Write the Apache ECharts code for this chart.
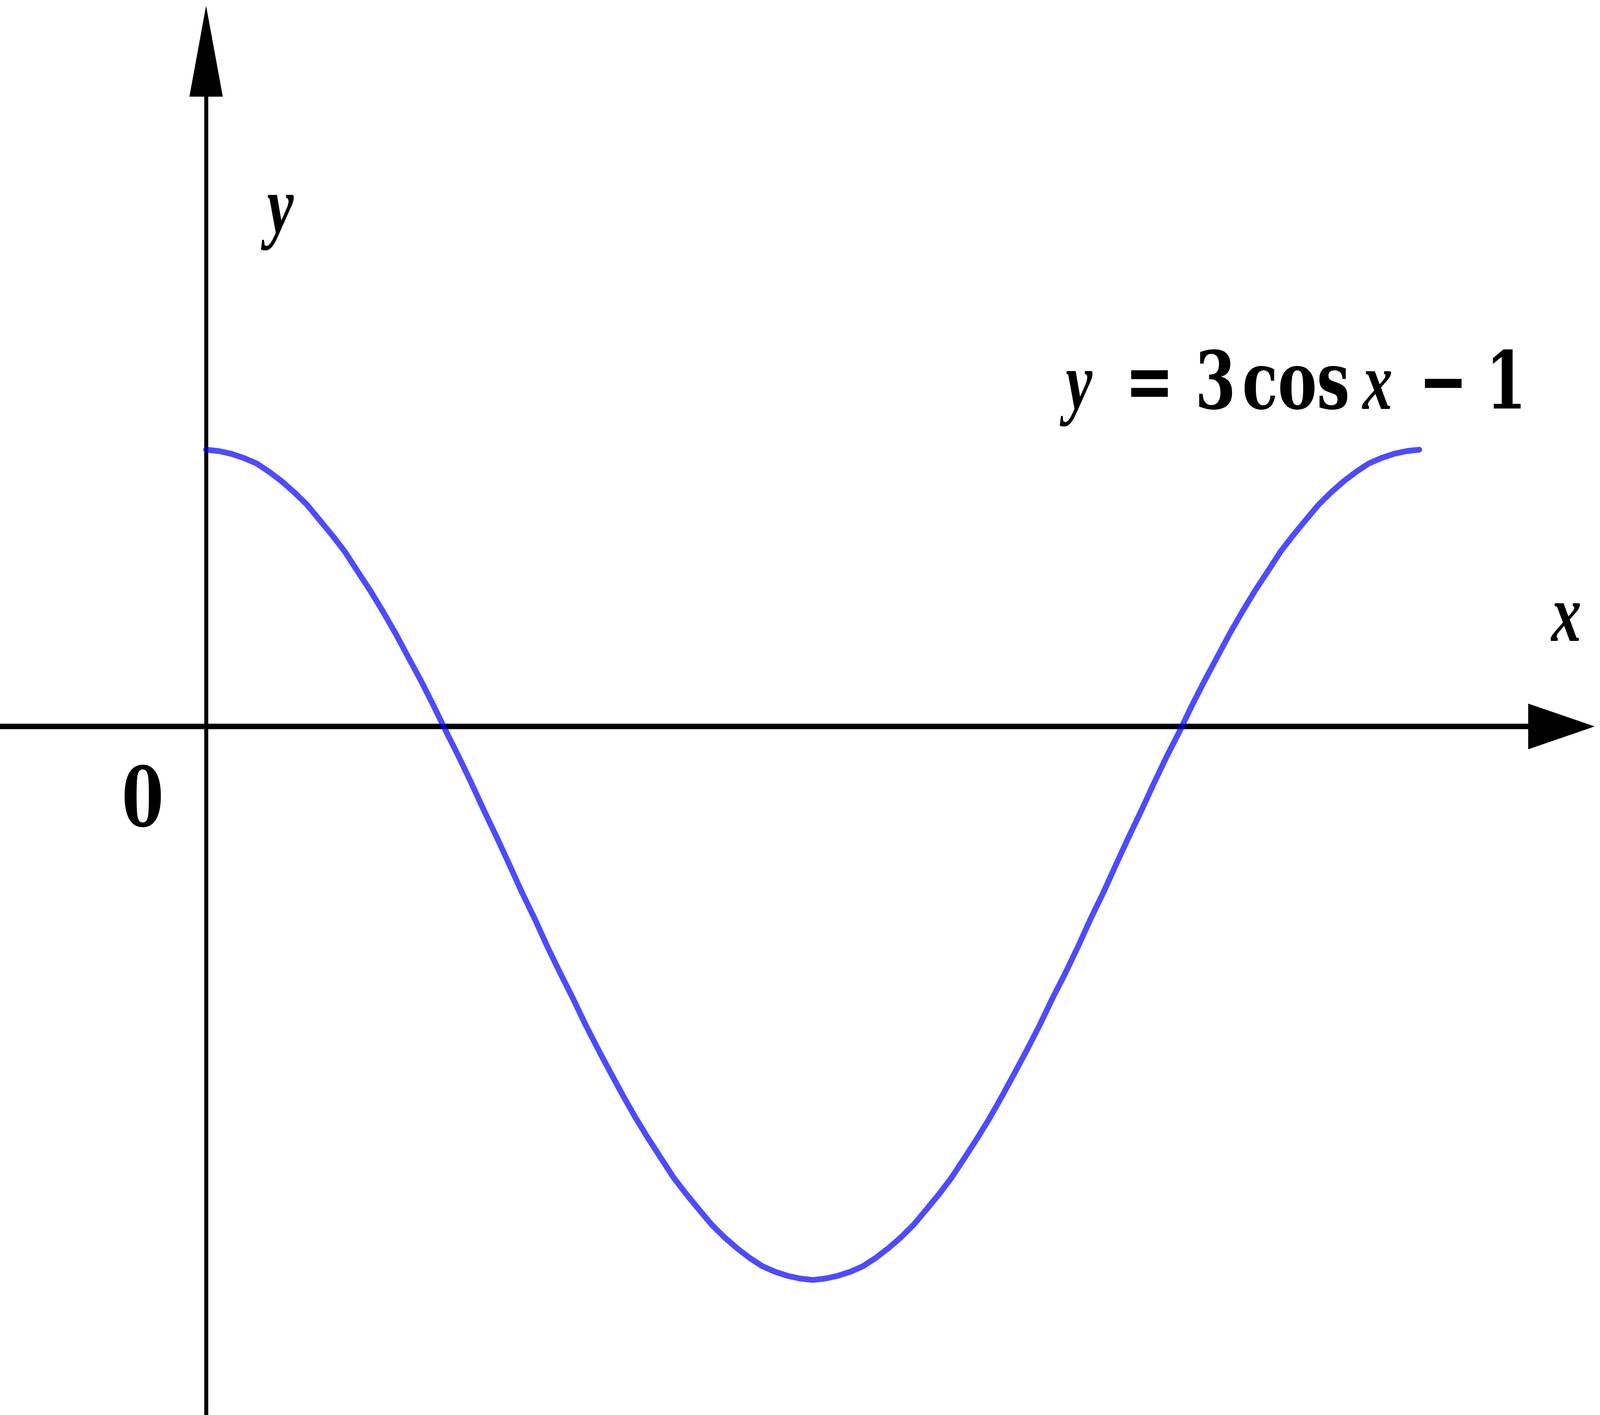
<!DOCTYPE html>
<html>
<head>
<meta charset="utf-8">
<script src="https://cdn.jsdelivr.net/npm/echarts@6/dist/echarts.min.js"></script>
<style>
html,body{margin:0;padding:0;background:#fff;overflow:hidden;}
#chart{width:100vw;height:100vh;}
</style>
</head>
<body>
<div id="chart"></div>
<script>
const xValues = [0, 0.065, 0.131, 0.196, 0.262, 0.327, 0.393, 0.458, 0.524, 0.589,
  0.654, 0.720, 0.785, 0.851, 0.916, 0.982, 1.047, 1.113, 1.178, 1.244,
  1.309, 1.374, 1.440, 1.505, 1.571, 1.636, 1.702, 1.767, 1.833, 1.898,
  1.963, 2.029, 2.094, 2.160, 2.225, 2.291, 2.356, 2.421, 2.487, 2.552,
  2.618, 2.683, 2.749, 2.814, 2.880, 2.945, 3.011, 3.076, 3.142, 3.207,
  3.272, 3.338, 3.403, 3.469, 3.534, 3.600, 3.665, 3.731, 3.796, 3.861,
  3.927, 3.992, 4.058, 4.123, 4.189, 4.254, 4.320, 4.385, 4.451, 4.516,
  4.581, 4.647, 4.712, 4.778, 4.843, 4.909, 4.974, 5.040, 5.105, 5.171,
  5.236, 5.301, 5.367, 5.432, 5.498, 5.563, 5.629, 5.694, 5.760, 5.825,
  5.890, 5.956, 6.021, 6.087, 6.152, 6.218, 6.283];
const yValues = [2.00, 1.99, 1.97, 1.94, 1.90, 1.84, 1.77, 1.69, 1.60, 1.49,
  1.38, 1.26, 1.12, 0.98, 0.83, 0.67, 0.50, 0.33, 0.15, -0.04,
  -0.22, -0.41, -0.61, -0.80, -1.00, -1.20, -1.39, -1.59, -1.78, -1.96,
  -2.15, -2.33, -2.50, -2.67, -2.83, -2.98, -3.12, -3.26, -3.38, -3.49,
  -3.60, -3.69, -3.77, -3.84, -3.90, -3.94, -3.97, -3.99, -4.00,
  -3.99, -3.97, -3.94, -3.90, -3.84, -3.77, -3.69, -3.60, -3.49, -3.38,
  -3.26, -3.12, -2.98, -2.83, -2.67, -2.50, -2.33, -2.15, -1.96, -1.78,
  -1.59, -1.39, -1.20, -1.00, -0.80, -0.61, -0.41, -0.22, -0.04, 0.15,
  0.33, 0.50, 0.67, 0.83, 0.98, 1.12, 1.26, 1.38, 1.49, 1.60,
  1.69, 1.77, 1.84, 1.90, 1.94, 1.97, 1.99, 2.00];
const axisLabelX = 'x';
const axisLabelY = 'y';
const originLabel = '0';
const formulaTokens = ['y', '=', '3', 'cos', 'x', '\u2212', '1'];

const el = document.getElementById('chart');
const W = el.clientWidth || window.innerWidth;
const H = el.clientHeight || window.innerHeight;
const s = W / 5605;   // horizontal scale from reference pixels
const sy = H / 3623;  // vertical scale from reference pixels
const kx = s / sy;    // horizontal squeeze for text
const chart = echarts.init(el, null, {renderer: 'canvas', width: W, height: H});
const pts = xValues.map((x, i) => [x, yValues[i]]);

const uprightF = '"DejaVu Serif"';
const italicF = '"Liberation Serif"';
const fsF = 205;
const fsI = 210;
function tok(italic, w) {
  return {fontFamily: italic ? italicF : uprightF, fontWeight: 'bold', fontStyle: italic ? 'italic' : 'normal',
    fontSize: (italic ? fsI : fsF) * sy, width: w * sy, align: 'center', color: '#000', lineHeight: fsF * sy};
}
const tokenWidths = [200, 294, 168, 396, 176, 284, 156];
const tokenItalic = [true, false, false, false, true, false, false];
const rich = {};
let txt = '';
formulaTokens.forEach((t, i) => {
  rich['t' + i] = tok(tokenItalic[i], tokenWidths[i]);
  txt += '{t' + i + '|' + t + '}';
});

chart.setOption({
  animation: false,
  backgroundColor: '#fff',
  grid: {left: 0, right: 135 * s, top: 131 * sy, bottom: 0, containLabel: false},
  xAxis: {
    type: 'value', min: -1.0674, max: 7.0195,
    axisLine: {show: true, onZero: true, lineStyle: {color: '#000', width: 14 * sy},
      symbol: ['none', 'triangle'], symbolSize: [117 * sy, 233 * s]},
    axisTick: {show: false}, axisLabel: {show: false}, splitLine: {show: false}
  },
  yAxis: {
    type: 'value', min: -4.976, max: 4.880,
    axisLine: {show: true, onZero: true, lineStyle: {color: '#000', width: 14 * s},
      symbol: ['none', 'triangle'], symbolSize: [117 * s, 233 * sy]},
    axisTick: {show: false}, axisLabel: {show: false}, splitLine: {show: false}
  },
  series: [{
    type: 'line', data: pts, smooth: false, showSymbol: false, symbol: 'none', z: 5,
    lineStyle: {color: 'rgba(0,0,255,0.7)', width: 17 * (s + sy) / 2, cap: 'round', join: 'round'}
  }],
  graphic: [
    {type: 'text', x: 982 * s, y: (603 - 0.29 * fsI) * sy, scaleX: kx, z: 10,
      style: {text: axisLabelY, fontFamily: italicF, fontWeight: 'bold', fontStyle: 'italic', fontSize: fsI * sy,
        fill: '#000', align: 'center', verticalAlign: 'middle'}},
    {type: 'text', x: 5487 * s, y: (1648 - 0.29 * fsI) * sy, scaleX: kx, z: 10,
      style: {text: axisLabelX, fontFamily: italicF, fontWeight: 'bold', fontStyle: 'italic', fontSize: fsI * sy,
        fill: '#000', align: 'center', verticalAlign: 'middle'}},
    {type: 'text', x: 500 * s, y: (2117 - 0.27 * 211) * sy, scaleX: kx, z: 10,
      style: {text: originLabel, fontFamily: uprightF, fontWeight: 'bold', fontSize: 211 * sy,
        fill: '#000', align: 'center', verticalAlign: 'middle'}},
    {type: 'text', x: 3680 * s, y: (1048 - 0.27 * fsF) * sy, scaleX: kx, z: 10,
      style: {text: txt, rich: rich, fontFamily: uprightF, fontSize: fsF * sy, fill: '#000',
        align: 'left', verticalAlign: 'middle'}}
  ]
});
</script>
</body>
</html>
